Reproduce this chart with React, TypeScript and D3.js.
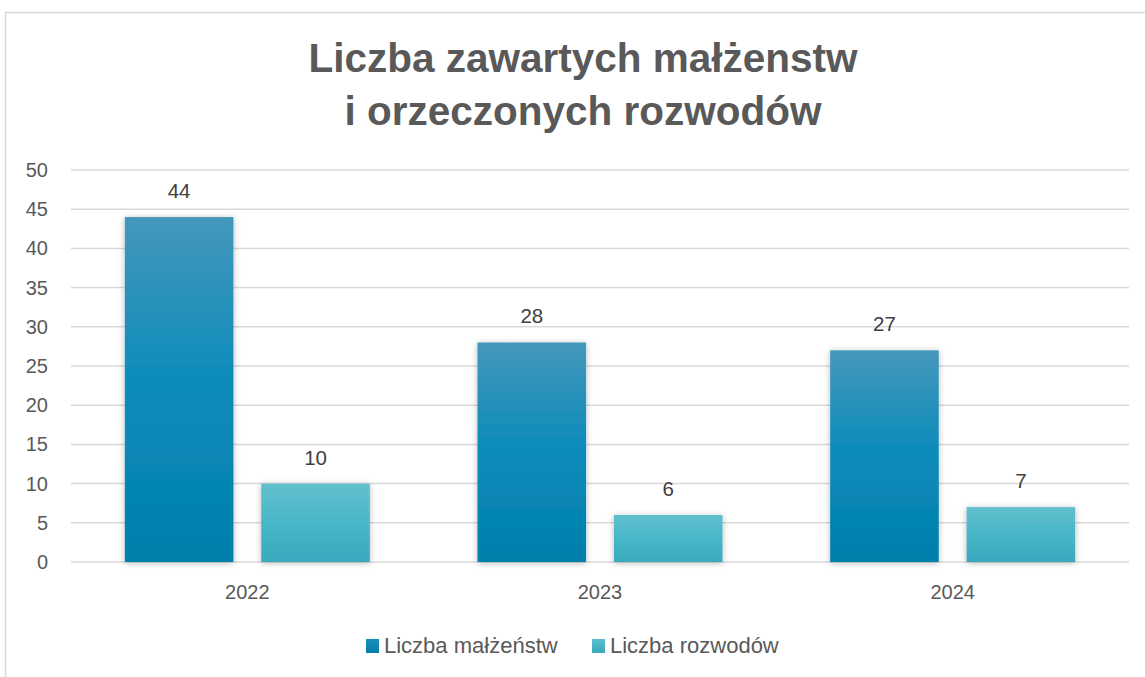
import React from "react";
import * as d3 from "d3";

const years = ["2022", "2023", "2024"];
const marriages = [44, 28, 27];
const divorces = [10, 6, 7];
const seriesNames = ["Liczba małżeństw", "Liczba rozwodów"];
const yTicks = [0, 5, 10, 15, 20, 25, 30, 35, 40, 45, 50];
const titleLines = ["Liczba zawartych małżenstw", "i orzeczonych rozwodów"];

const W = 1145;
const H = 677;
const plotLeft = 71;
const plotRight = 1129;
const plotTop = 170;
const plotBottom = 562;
const FONT = "'Liberation Sans', Arial, sans-serif";
const TXT = "#595959";

export default function App() {
  const x0 = d3.scaleBand<string>().domain(years).range([plotLeft, plotRight]).paddingInner(0).paddingOuter(0);
  const groupW = 245;
  const x1 = d3
    .scaleBand<string>()
    .domain(["m", "d"])
    .range([0, groupW])
    .paddingInner(25 / 122.5)
    .paddingOuter(0);
  const y = d3.scaleLinear().domain([0, 50]).range([plotBottom, plotTop]);
  const bw = x1.bandwidth();

  const series = [
    { key: "m", values: marriages, fill: "url(#gradM)" },
    { key: "d", values: divorces, fill: "url(#gradD)" },
  ];

  return (
    <svg
      width={W}
      height={H}
      style={{ position: "absolute", left: 0, top: 0, background: "#fff" }}
      fontFamily={FONT}
    >
      <defs>
        <linearGradient id="gradM" x1="0" y1="0" x2="0" y2="1">
          <stop offset="0" stopColor="#4497BB" />
          <stop offset="0.5" stopColor="#0A8BBB" />
          <stop offset="1" stopColor="#037FAA" />
        </linearGradient>
        <linearGradient id="gradD" x1="0" y1="0" x2="0" y2="1">
          <stop offset="0" stopColor="#62BFCD" />
          <stop offset="0.5" stopColor="#48B7C8" />
          <stop offset="1" stopColor="#3AA8BD" />
        </linearGradient>
        <linearGradient id="legM" x1="0" y1="0" x2="0" y2="1">
          <stop offset="0" stopColor="#1A8DBB" />
          <stop offset="1" stopColor="#037FAA" />
        </linearGradient>
        <linearGradient id="legD" x1="0" y1="0" x2="0" y2="1">
          <stop offset="0" stopColor="#5CBECC" />
          <stop offset="1" stopColor="#3AA8BD" />
        </linearGradient>
        <filter id="shadow" x="-20%" y="-20%" width="140%" height="140%">
          <feDropShadow dx="0" dy="1" stdDeviation="3" floodColor="#000" floodOpacity="0.28" />
        </filter>
      </defs>

      <rect x={5.5} y={12.5} width={W + 10} height={H + 10} fill="#fff" stroke="#D9D9D9" strokeWidth={1.5} />

      {titleLines.map((t, i) => (
        <text
          key={i}
          x={583}
          y={72 + i * 53}
          textAnchor="middle"
          fontSize={40.5}
          fontWeight="bold"
          fill={TXT}
        >
          {t}
        </text>
      ))}

      {yTicks.map((t) => (
        <g key={t}>
          <line x1={plotLeft} x2={plotRight} y1={y(t)} y2={y(t)} stroke="#D9D9D9" strokeWidth={1.5} />
          <text x={48} y={y(t) + 7} textAnchor="end" fontSize={20} fill={TXT}>
            {t}
          </text>
        </g>
      ))}

      {years.map((yr, i) => {
        const gx = (x0(yr) as number) + (x0.bandwidth() - groupW) / 2;
        return (
          <g key={yr}>
            {series.map((s) => {
              const v = s.values[i];
              const bx = gx + (x1(s.key) as number);
              return (
                <g key={s.key}>
                  <rect
                    x={bx}
                    y={y(v)}
                    width={bw}
                    height={y(0) - y(v)}
                    fill={s.fill}
                    filter="url(#shadow)"
                  />
                  <text x={bx + bw / 2} y={y(v) - 19} textAnchor="middle" fontSize={20.5} fill="#404040">
                    {v}
                  </text>
                </g>
              );
            })}
            <text
              x={(x0(yr) as number) + x0.bandwidth() / 2}
              y={599}
              textAnchor="middle"
              fontSize={20}
              fill={TXT}
            >
              {yr}
            </text>
          </g>
        );
      })}

      <g>
        <rect x={366} y={639} width={13} height={14} fill="url(#legM)" />
        <text x={384} y={653} fontSize={22} fill={TXT}>
          {seriesNames[0]}
        </text>
        <rect x={592} y={639} width={13} height={14} fill="url(#legD)" />
        <text x={610} y={653} fontSize={22} fill={TXT}>
          {seriesNames[1]}
        </text>
      </g>
    </svg>
  );
}
